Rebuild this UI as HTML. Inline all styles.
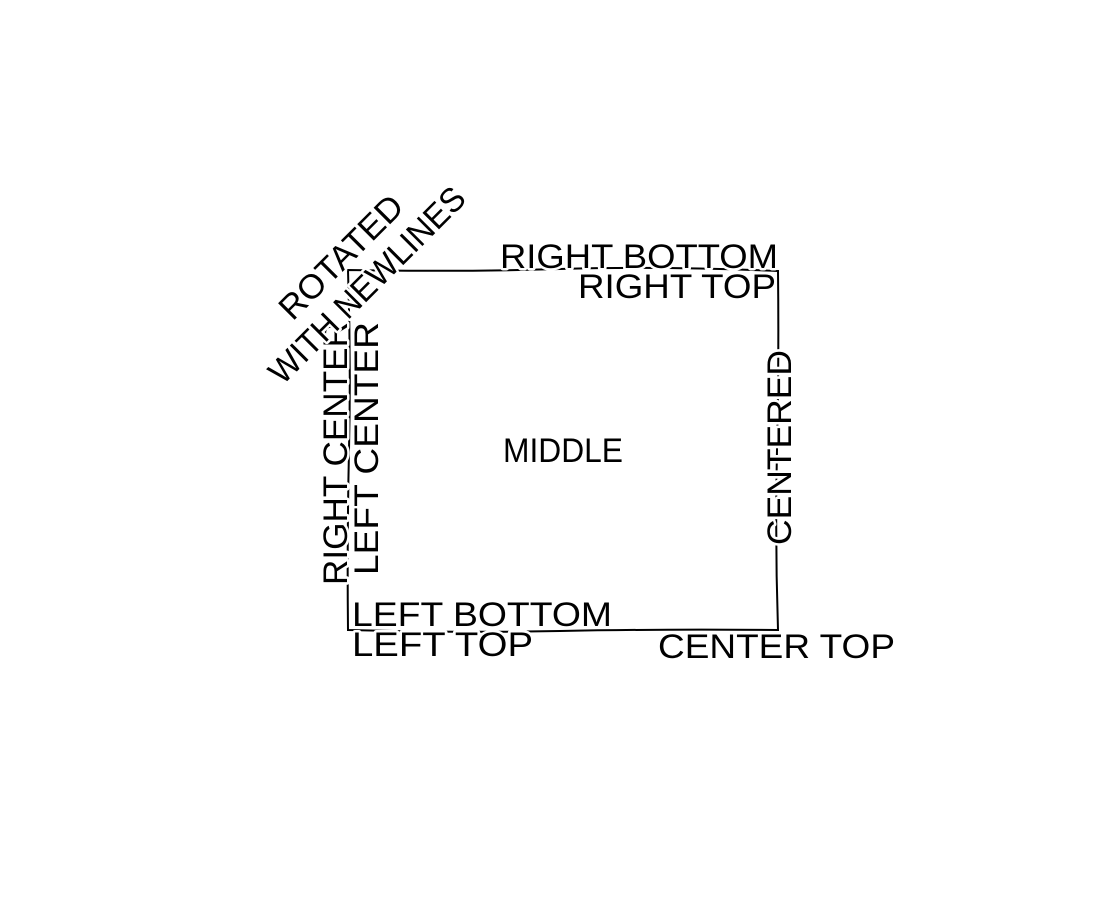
<!DOCTYPE html>
<html>
<head>
<meta charset="utf-8">
<style>
html,body{margin:0;padding:0;background:#fff;}
svg{display:block;}
text{font-family:"Liberation Sans",sans-serif;font-size:34px;fill:#000;stroke:#fff;stroke-width:5px;paint-order:stroke;stroke-linejoin:round;}
</style>
</head>
<body>
<svg width="1100" height="900" viewBox="0 0 1100 900">
  <rect x="0" y="0" width="1100" height="900" fill="#fff"/>
  <path d="M348,270 Q460,272 560,269 T778,271 Q779,360 777,450 T778,630 Q660,629 560,631 T348,630 Q347,540 349,450 T348,270 Z" fill="none" stroke="#000" stroke-width="2"/>

  <text x="500" y="268" textLength="278" lengthAdjust="spacingAndGlyphs">RIGHT BOTTOM</text>
  <text x="578" y="298" textLength="198" lengthAdjust="spacingAndGlyphs">RIGHT TOP</text>
  <text x="352" y="626" textLength="260" lengthAdjust="spacingAndGlyphs">LEFT BOTTOM</text>
  <text x="352" y="656" textLength="181" lengthAdjust="spacingAndGlyphs">LEFT TOP</text>
  <text x="658" y="658" textLength="237" lengthAdjust="spacingAndGlyphs">CENTER TOP</text>
  <text x="503" y="462" textLength="120" lengthAdjust="spacingAndGlyphs">MIDDLE</text>

  <text transform="translate(791,545) rotate(-90)" x="0" y="0" textLength="195" lengthAdjust="spacingAndGlyphs">CENTERED</text>
  <text transform="translate(347,585) rotate(-90)" x="0" y="0" textLength="263" lengthAdjust="spacingAndGlyphs">RIGHT CENTER</text>
  <text transform="translate(378,575) rotate(-90)" x="0" y="0" textLength="253" lengthAdjust="spacingAndGlyphs">LEFT CENTER</text>

  <g transform="translate(340,256) rotate(-45)">
    <text x="0" y="13" text-anchor="middle" textLength="160" lengthAdjust="spacingAndGlyphs">ROTATED</text>
  </g>
  <g transform="translate(366,284) rotate(-45)">
    <text x="0" y="13" text-anchor="middle" textLength="262" lengthAdjust="spacingAndGlyphs">WITH NEWLINES</text>
  </g>
</svg>
</body>
</html>
